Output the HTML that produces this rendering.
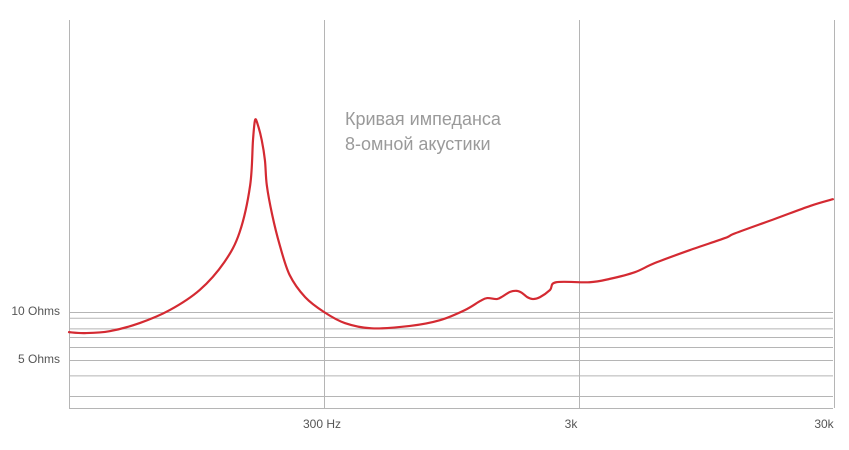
<!DOCTYPE html>
<html><head><meta charset="utf-8"><style>
body{margin:0;background:#fff;}
svg{display:block;font-family:"Liberation Sans","DejaVu Sans",sans-serif;}
</style></head><body>
<svg id="chart" width="849" height="450" viewBox="0 0 849 450">
<g id="grid"></g>
<g id="labels"></g>
<text x="345" y="125" font-size="18" fill="#9a9a9a">Кривая импеданса</text>
<text x="345" y="150" font-size="18" fill="#9a9a9a">8-омной акустики</text>
<path id="curve" fill="none" stroke="#d42a32" stroke-width="2.2" stroke-linejoin="round" stroke-linecap="round"></path>
</svg>
<script>
const freqs=[30,34.6,43.3,56.8,74.5,97.7,122,140,154,158,161,165,171,176,179,188,201,220,253,300,362,462,652,855,1070,1230,1310,1430,1510,1610,1710,1790,1880,1980,2110,2310,2440,3300,3960,4970,5950,8170,11200,12300,17600,24200,29700];
const ohms=[7.9,7.8,8.0,8.85,10.2,12.3,15.2,18.3,23.2,27.9,30,29.5,27.9,25.8,23.2,20.1,17.0,13.85,11.55,10,8.85,8.3,8.55,9.15,10.2,11.15,11.45,11.35,11.65,12.1,12.2,12.0,11.55,11.35,11.55,12.3,13.1,13.1,13.45,14.15,15.1,16.45,17.7,18.2,19.7,21.05,21.75];
const gridOhms=[10,9.4,8.3,7.4,6.35,5,3.4,1.25];
const yTickVals=[10,5];
const yTickLabels=["10 Ohms","5 Ohms"];
const xTickVals=[300,3000,30000];
const xTickLabels=["300 Hz","3k","30k"];
const X0=69,X1=833,Y0=408,TOP=20;
const xs=f=>X0+(Math.log10(f)-Math.log10(30))*255;
const ys=o=>Y0-o*9.6;
const NS="http://www.w3.org/2000/svg";
const grid=document.getElementById('grid'),lab=document.getElementById('labels');
function line(x1,y1,x2,y2,name){const l=document.createElementNS(NS,'line');
l.setAttribute('x1',x1);l.setAttribute('y1',y1);l.setAttribute('x2',x2);l.setAttribute('y2',y2);
l.setAttribute('stroke','#b5b5b5');l.setAttribute('stroke-width','1');


grid.appendChild(l);}
gridOhms.forEach(o=>line(X0,ys(o)+0.5,X1,ys(o)+0.5,'h-gridline'));
line(X0,Y0+0.5,X1,Y0+0.5,'x-axis');
line(X0+0.5,TOP,X0+0.5,Y0,'y-axis');
xTickVals.forEach(f=>line(Math.round(xs(f))+0.5,TOP,Math.round(xs(f))+0.5,Y0,'v-gridline'));
function txt(x,y,s,anchor,name){const t=document.createElementNS(NS,'text');
t.setAttribute('x',x);t.setAttribute('y',y);t.setAttribute('text-anchor',anchor);
t.setAttribute('font-size','12');t.setAttribute('fill','#555');t.textContent=s;


lab.appendChild(t);}
yTickVals.forEach((v,i)=>txt(60,ys(v)+3,yTickLabels[i],'end','y-tick-label'));
xTickVals.forEach((v,i)=>txt(xs(v)-(i==2?10:i==0?2:8),428,xTickLabels[i],'middle','x-tick-label'));
const pts=freqs.map((f,i)=>[xs(f),ys(ohms[i])]);
let d='M'+pts[0][0]+','+pts[0][1];
for(let i=0;i<pts.length-1;i++){const p0=pts[Math.max(0,i-1)],p1=pts[i],p2=pts[i+1],p3=pts[Math.min(pts.length-1,i+2)];
const c1=[p1[0]+(p2[0]-p0[0])/6,p1[1]+(p2[1]-p0[1])/6],c2=[p2[0]-(p3[0]-p1[0])/6,p2[1]-(p3[1]-p1[1])/6];
d+=' C'+c1+' '+c2+' '+p2;}
document.getElementById('curve').setAttribute('d',d);
</script>
</body></html>
